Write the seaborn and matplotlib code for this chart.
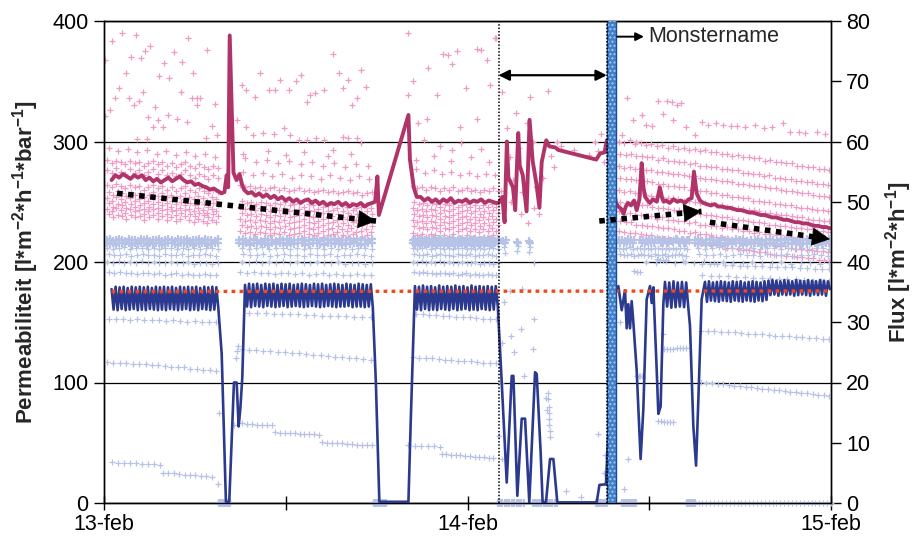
import numpy as np
import pandas as pd
import matplotlib
matplotlib.use("Agg")
import matplotlib.pyplot as plt
import seaborn as sns

# ---------------------------------------------------------------
# DATA  (time in hours after 13-feb 00:00)
# ---------------------------------------------------------------
x_ticks = [0, 12, 24, 36, 48]
x_labels = ["13-feb", "", "14-feb", "", "15-feb"]
perm_ticks = [0, 100, 200, 300, 400]
flux_ticks = [0, 10, 20, 30, 40, 50, 60, 70, 80]

# averaged permeability line: (t0, t1, values on a regular grid) or "t:v" pairs
perm_line = [
    (0.5, 7.75, "268 272 270 273 271 269 272 270 272 268 270 267 269 266 268 270 267 269 271 268 266 267 264 265 263 262 260 261 259 257"),
    "7.95:258 8.1:272 8.2:262 8.3:388 8.45:318 8.55:274 8.75:268 8.95:273 9.1:265 9.25:260 9.5:257",
    (9.75, 17.7, "258 255 257 254 256 253 255 252 254 251 253 250 252 249 251 252 249 251 248 250 247 249 248 250 247 249 246 248 247 249 246 248 249"),
    "17.9:250 18.05:271 18.15:239 20.1:322 20.2:285 20.45:262 20.65:254",
    (20.9, 25.9, "254 251 253 250 252 249 252 250 253 249 251 250 252 249 251 250 252 249 251 250 249"),
    "26.05:249 26.3:254 26.45:233 26.6:300 26.7:270 27.0:262 27.15:243 27.35:307 27.45:280 27.65:272 27.9:242 "
    "28.1:318 28.3:284 28.55:265 28.75:245 28.9:283 29.2:301 29.4:296 29.8:295 30.0:293 32.5:285 32.75:290 "
    "33.05:291 33.2:301 33.8:249 33.96:246 34.15:244 34.3:240 34.45:246 34.6:249 34.8:247 35.0:251 35.17:243 "
    "35.35:252 35.5:282 35.62:262 35.73:254 35.9:251 36.05:249 36.25:252 36.5:250 36.7:262 36.85:253 36.95:250",
    (37.1, 38.6, "251 249 252 250 251 249 252"),
    "38.8:253 38.95:275 39.13:257 39.35:251 39.57:249",
    (39.8, 47.93, "248 247 248 246 246 245 245 244 243 243 242 241 241 240 239 239 238 237 237 236 235 235 234 233 233 232 232 231 230 230 229 229 228"),
]

# averaged flux line
flux_line = [
    (0.5, 7.55, "35.5 32.1 35.9 32.0 35.8 32.2 35.9 32.0 35.7 32.1 35.9 32.2 35.8 32.0 35.9 32.1 35.8 32.0 35.9 32.2 "
                "35.7 32.1 35.9 32.0 35.8 32.1 35.9 32.0 35.8 32.2 35.9 32.1 35.7 32.0 35.9 32.1 35.8 32.2 35.9 32.0 "
                "35.8 32.1 35.9 32.0 35.7 32.2 35.9 32.1 35.8 32.0 35.9 32.1 35.8 32.3"),
    "7.77:24.8 8.05:0.2 8.27:0.2 8.58:20 8.76:20 8.89:12.7 9.0:15.6 9.13:20.8",
    (9.31, 17.75, "36.2 32.6 36.4 32.5 36.3 32.7 36.4 32.6 36.2 32.5 36.4 32.7 36.3 32.6 36.4 32.5 36.2 32.6 36.4 32.7 "
                  "36.3 32.5 36.4 32.6 36.2 32.7 36.3 32.6 36.4 32.5 36.3 32.6 36.2 32.7 36.4 32.6 36.3 32.5 36.4 32.6 "
                  "36.2 32.7 36.3 32.6 36.4 32.5 36.3 32.6 36.2 32.6 36.4 32.7 36.3 32.5 36.2 32.6 36.4 32.6 36.3 32.5 "
                  "36.2 32.6 36.3 32.4"),
    "17.95:20 18.18:0.2 20.1:0.2 20.25:13.4",
    (20.53, 26.0, "36.0 32.1 35.9 32.0 36.1 32.2 35.9 32.0 36.0 32.1 35.8 32.0 36.1 32.2 35.9 32.1 36.0 32.0 35.9 32.2 "
                  "36.1 32.0 35.9 32.1 36.0 32.2 35.8 32.0 36.1 32.1 35.9 32.0 36.0 32.2 35.9 32.1 36.0 32.0 35.9 32.1 "
                  "36.0 32.6"),
    "26.26:20 26.59:3.4 26.92:21.1 27.03:21.1 27.29:1.2 27.58:14 27.8:14 28.08:0.1 28.46:21.7 28.57:21.4 "
    "28.83:8.4 28.96:0.1 29.18:0.1 29.45:7.3 29.67:7.3 29.93:0.1 32.53:0.1 32.71:3 33.14:3.1 33.41:18 "
    "33.74:35 33.96:36 34.18:32 34.4:35.3 34.51:29 34.62:33 34.73:29 34.84:33.5 34.95:30 35.17:22 35.43:7.3 "
    "35.61:15.6 35.83:33.8 36.05:36 36.16:33.2 36.27:35.8 36.49:22.2 36.6:14.8 36.75:16 36.93:33",
    (37.04, 38.58, "36.7 32.6 36.6 32.4 36.8 32.5 36.6 32.6 36.7 32.5 36.6 32.4"),
    "38.69:29.4 38.91:12.8 39.09:6.2 39.24:17 39.46:33.8",
    (39.68, 47.93, "36.7 33.4 36.8 33.6 36.6 33.5 36.7 33.4 36.8 33.6 36.7 33.5 36.6 33.4 36.8 33.6 36.7 33.5 36.8 33.4 "
                   "36.6 33.6 36.7 33.5 36.8 33.4 36.7 33.6 36.6 33.5 36.8 33.7 36.9 34.5 37.0 34.6 36.9 34.4 36.8 34.6 "
                   "37.0 34.5 36.9 34.6 36.8 34.4 37.0 34.5 36.9 34.6 36.8 34.5 37.0 34.4 36.9 34.6 36.8 34.5 37.0 34.6 "
                   "36.9 34.4 36.8 35.5"),
]

# flux set point (red dotted line)
setpoint_t = [0.5, 48.0]
setpoint_flux = [35.1, 35.2]

# raw permeability points
perm_points = [
    (0.2, 7.5, "276 274 278 275 273 277 274 276 272 275 277 273 276 272 274 271 273 276 272 270 273 271 269 272 270"),
    (0.2, 7.5, "264 262 265 263 261 264 262 263 260 262 264 261 263 260 262 259 261 263 260 258 261 259 257 260 258"),
    (0.3, 7.4, "258 256 259 257 255 258 256 257 254 256 258 255 257 254 256 253 255 257 254 252 255 253 251 254 252"),
    (0.2, 7.5, "253 251 254 252 250 253 251 252 249 251 253 250 252 249 251 248 250 252 249 247 250 248 246 249 247"),
    (0.3, 7.4, "249 246 248 247 245 248 246 247 244 246 248 245 247 244 246 243 245 247 244 242 245 243 241 244 242"),
    (0.2, 7.5, "244 242 245 243 241 244 242 243 240 242 244 241 243 240 242 239 241 243 240 238 241 239 237 240 238"),
    (0.3, 7.4, "240 237 239 238 236 239 237 238 235 237 239 236 238 235 237 234 236 238 235 233 236 234 232 235 233"),
    (0.2, 7.5, "285 282 284 283 281 284 282 283 280 282 284 281 283 280 282 279 281 283 280 278 281 279 277 280 278"),
    (0.3, 7.3, "295 292 294 291 293 290 292 289 291 288 290 287"),
    "0.07:368 0.5:383 1.17:390 2.1:388 1.76:370 2.7:375 3.04:379 2.42:369 1.45:357 3.96:365 4.62:374 5.57:386 "
    "6.82:376 5.17:366 5.9:357 3.65:354 4.31:353 1.01:344 2.6:341 5.08:341 0.4:326 0.73:336 1.67:336 2.33:334 "
    "3.37:329 1.98:330 5.79:336 6.12:336 6.34:336 7.33:331 6.16:330 2.93:320 3.55:318 3.26:312 3.87:312 4.2:322 "
    "4.84:319 5.46:316 7.11:313 6.73:303 7.44:305 0.07:321 2.82:302 2.16:302",
    (9.0, 17.7, "264 262 263 261 262 260 261 262 260 261 259 260 261 259 260 258 259 260 258 259 257 258 259 257 258 256 257 258"),
    (9.1, 17.6, "251 249 250 248 250 249 247 249 248 250 247 248 249 246 248 247 249 246 247 248 245 247 246 248 245 246 247 245"),
    (9.0, 17.7, "246 244 245 243 245 244 242 244 243 245 242 243 244 241 243 242 244 241 242 243 240 242 241 243 240 241 242 240"),
    (9.1, 17.6, "241 239 240 238 240 239 237 239 238 240 237 238 239 236 238 237 239 236 237 238 235 237 236 238 235 236 237 235"),
    (9.0, 17.7, "236 234 235 233 235 234 232 234 233 235 232 233 234 231 233 232 234 231 232 233 230 232 231 233 230 231 232 230"),
    (9.1, 17.6, "231 229 230 228 230 229 227 229 228 230 227 228 229 226 228 227 229 226 227 228 225 227 226 228 225 226 227 225"),
    (9.0, 17.7, "226 224 225 223 225 224 222 224 223 225 222 223 224 221 223 222 224 221 222 223 220 222 221 223 220 221 222 220"),
    (9.2, 17.5, "275 272 274 271 273 270 272 271 269 272 270 268 271 269"),
    (9.3, 17.4, "286 283 285 282 284 281 283 280 282 279 281 280"),
    "9.1:347 9.4:343 10.0:337 10.3:357 10.9:343 11.3:343 11.6:351 12.2:343 12.7:350 13.4:333 13.6:339 13.9:340 "
    "14.5:343 15.1:373 15.5:357 15.8:344 16.1:351 16.4:330 16.7:336 17.0:359 17.3:345 13.0:355 9.4:312 8.8:318 "
    "9.85:305 10.5:307 11.2:306 11.9:311 12.3:305 12.9:301 13.4:301 14.0:303 14.5:301 15.1:293 15.8:304 16.1:303 "
    "16.7:303 17.0:299 9.2:290 10.8:292 12.0:289 13.2:291 14.8:288 16.3:290",
    (20.4, 26.0, "263 261 262 260 262 261 259 261 260 262 259 260 261 259 260 258 260 259 261 259"),
    (20.5, 25.9, "250 248 249 247 249 248 246 248 247 249 246 247 248 246 247 245 247 246 248 246"),
    (20.4, 26.0, "245 243 244 242 244 243 241 243 242 244 241 242 243 241 242 240 242 241 243 241"),
    (20.5, 25.9, "240 238 239 237 239 238 236 238 237 239 236 237 238 236 237 235 237 236 238 236"),
    (20.4, 26.0, "235 233 234 232 234 233 231 233 232 234 231 232 233 231 232 230 232 231 233 231"),
    (20.5, 25.9, "230 228 229 227 229 228 226 228 227 229 226 227 228 226 227 225 227 226 228 226"),
    (20.4, 26.0, "224 222 223 221 223 222 220 222 221 223 220 221 222 220 221 219 221 220 222 220"),
    (20.6, 25.8, "277 274 276 273 275 272 274 271 273 272"),
    "20.1:390 22.4:373 22.7:372 23.3:375 24.6:377 24.9:376 25.3:368 21.4:361 23.0:364 20.4:350 23.9:344 "
    "25.5:347 22.0:339 20.1:339 21.3:319 23.5:312 24.6:319 20.75:315 25.9:386 22.2:296 21.1:301 23.6:299 "
    "24.9:294 23.0:293 20.6:285 21.8:288 22.9:284 24.2:287 25.4:283",
    "26.3:341 26.6:311 26.8:287 27.0:268 27.2:324 27.4:295 27.6:258 27.9:315 28.1:337 28.3:300 28.5:262 "
    "28.7:240 29.0:270 29.3:342 29.5:288 29.7:279 26.9:250 27.5:240 28.0:232 28.4:245 32.4:300 32.6:292 "
    "32.8:306 33.0:283 26.2:259 26.4:244 29.9:300 30.2:296 31.0:293 32.0:289 25.8:386",
    (34.0, 47.9, "300 299 301 298 299 297 298 296 297 295 296 294 295 293 294 292 293 291 291 290 290 288 289 287 287 286 286 284 285 283 283 282 282 280 280 279 279 277 277 276"),
    (34.1, 47.8, "290 289 290 288 288 287 287 285 286 284 284 283 283 281 282 280 280 279 279 277 277 276 276 274 274 273 273 271 272 270 270 269 269 267 267 266 266 265 265 264"),
    (34.0, 47.9, "280 278 279 277 278 276 276 275 275 274 273 273 272 271 271 270 269 269 268 267 267 266 265 265 264 263 263 262 261 261 260 259 259 258 257 257 256 255 255 254"),
    (34.1, 47.8, "270 269 269 268 267 267 266 265 265 263 263 262 262 260 260 259 259 257 257 256 256 254 254 253 253 251 251 250 250 248 248 247 247 246 245 245 244 243 243 242"),
    (34.0, 47.9, "260 258 259 257 257 256 255 255 254 253 253 252 251 251 250 249 249 248 247 247 246 245 245 244 243 243 242 241 241 240 239 239 238 237 237 236 235 235 234 234"),
    (34.1, 47.8, "250 249 249 248 247 247 246 245 245 244 243 243 242 241 241 240 239 239 238 237 237 236 235 235 234 233 233 232 231 231 230 230 229 228 228 227 227 226 226 225"),
    (34.0, 47.9, "242 240 241 239 239 238 238 236 237 235 235 234 234 232 233 231 231 230 230 228 229 227 227 226 226 224 225 223 223 222 222 221 221 219 220 218 218 217 217 216"),
    (34.1, 47.8, "234 233 233 231 231 230 230 229 228 228 227 226 226 224 225 223 223 222 221 221 220 219 219 218 217 217 216 215 215 214 213 213 212 211 211 210 210 209 209 208"),
    (34.0, 47.9, "226 225 224 224 223 222 222 221 220 220 219 218 218 217 216 216 215 214 214 213 212 212 211 210 210 209 208 208 207 206 206 205 205 204 204 203 203 202 202 201"),
    "34.5:336 35.5:322 35.8:314 36.6:334 36.9:323 37.2:334 37.5:333 37.8:330 38.1:332 39.5:316 39.9:314 "
    "40.4:315 40.9:314 41.4:313 41.8:313 42.3:312 43.0:314 43.6:311 44.1:312 44.8:315 45.3:308 45.9:308 "
    "46.3:307 47.1:308 47.6:306 34.9:318 36.2:313 37.6:318 38.4:312 34.2:305 35.1:300 39.0:305",
]

# raw flux points: the dense bands (flux ~43 and the zero clusters) ...
dense_hi = "43.6 43.8 43.5 43.7 43.9 43.6 43.5 43.8 43.6 43.7 43.5 43.9 43.6 43.8 43.5 43.7 43.6 43.9 43.5 43.7 43.8 43.6 43.5 43.9 43.7 43.6 43.8 43.5 43.7 43.6 43.8 43.5 43.9 43.6 43.7 43.5 43.8"
dense_lo = "43.1 43.0 43.2 42.9 43.1 43.2 43.0 43.1 42.9 43.2 43.0 43.1 43.2 42.9 43.1 43.0 43.2 43.1 42.9 43.0 43.2 43.1 43.0 42.9 43.2 43.1 43.0 43.2 42.9 43.1 43.0 43.2 43.1 42.9 43.0 43.2 43.1"
dense_short = "43.6 43.2 43.7 43.1 43.5 43.3 43.8 43.2 43.6 43.1 43.7"
zeros_12 = "0 0 0 0 0 0 0 0 0 0 0 0"
flux_points_dense = [
    (0.2, 7.5, dense_hi), (0.2, 7.5, dense_lo), (8.9, 17.7, dense_hi), (8.9, 17.7, dense_lo),
    (20.4, 26.0, dense_hi), (20.4, 26.0, dense_lo), (39.0, 47.9, dense_hi), (39.0, 47.9, dense_lo),
    (34.0, 35.0, dense_short), (35.4, 36.4, dense_short), (36.6, 38.6, dense_short), (36.7, 38.5, dense_short),
    (7.6, 8.3, zeros_12), (17.8, 18.6, zeros_12), (26.0, 27.7, zeros_12), (28.3, 29.9, zeros_12),
    (32.5, 33.2, zeros_12), (34.2, 35.1, zeros_12), (38.5, 39.0, zeros_12),
    "26.35:43.5 26.45:43.2 26.55:43.6 27.25:43.4 27.35:43.1 28.05:43.5 28.15:43.2",
]
# ... and the scattered streaks
row_423 = "42.4 42.2 42.3 42.5 42.1 42.3 42.4 42.2 42.3 42.1 42.4 42.3 42.2 42.4 42.1 42.3 42.2 42.4 42.3 42.1"
row_412 = "41.3 41.1 41.2 41.4 41.0 41.2 41.3 41.1 41.2 41.0 41.3 41.2 41.1 41.3 41.0 41.2 41.1 41.3 41.2 41.0"
row_400 = "40.0 39.9 40.1 39.8 40.0 39.9 40.1 39.8 40.0 39.9 39.8 40.0 39.9 39.8 40.0 39.7 39.9 39.8 39.7 39.8"
row_381 = "38.3 38.2 38.3 38.1 38.2 38.0 38.1 38.2 38.0 38.1 37.9 38.0 38.1 37.9 38.0 37.8 37.9 38.0 37.8 37.9"
zeros_36 = " ".join(["0"] * 36)
flux_points = [
    (0.2, 7.5, row_423), (0.3, 7.4, row_412), (0.2, 7.5, row_400), (0.3, 7.4, row_381),
    (9.1, 17.7, row_423), (9.2, 17.6, row_412), (9.1, 17.7, row_400), (9.0, 17.6, row_381),
    (20.4, 26.0, row_423), (20.5, 25.9, row_412), (20.4, 26.0, row_400), (20.5, 25.9, row_381),
    (34.0, 38.5, row_423), (34.1, 38.4, row_412), (39.2, 47.9, row_423), (39.3, 47.8, row_412), (35.8, 47.9, row_400),
    (0.3, 7.4, "30.6 30.5 30.6 30.4 30.5 30.4 30.3 30.4 30.2 30.3 30.2 30.1 30.2 30.0 30.1 30.0"),
    (0.2, 7.4, "23.4 23.3 23.3 23.2 23.1 23.1 23.0 22.9 22.9 22.7 22.6 22.5 22.5 22.3 22.2 22.1 22.0 21.9"),
    (0.5, 3.7, "6.8 6.7 6.7 6.6 6.6 6.5 6.4 6.4 6.3"),
    (3.9, 7.1, "5.0 4.9 4.9 4.8 4.7 4.7 4.6 4.5 4.4 4.3"),
    (9.6, 17.6, "31.6 31.5 31.5 31.4 31.4 31.3 31.3 31.2 31.2 31.1 31.1 31.0 31.0 30.9 30.9 30.8"),
    (9.1, 17.6, "25.5 25.4 25.4 25.3 25.2 25.1 25.0 24.9 24.9 24.8 24.6 24.5 24.4 24.3 24.2 24.1 24.0 23.9 23.8"),
    (9.1, 11.1, "13.2 13.1 13.1 13.0 13.0 12.9 12.9"),
    (11.3, 14.2, "11.8 11.7 11.7 11.6 11.6 11.5 11.5 11.4 11.4 11.3"),
    (14.4, 17.7, "10.1 10.0 10.0 9.9 9.9 9.8 9.8 9.7 9.7 9.6 9.6"),
    (20.6, 25.9, "31.4 31.3 31.2 31.2 31.1 31.0 30.9 30.9 30.8 30.7 30.6 30.6 30.5"),
    (20.4, 25.9, "24.2 24.1 24.0 24.0 23.9 23.8 23.7 23.6 23.6 23.5 23.4 23.3 23.2 23.2"),
    (20.1, 22.2, "9.6 9.5 9.5 9.4 9.4 9.3"),
    (22.3, 25.7, "8.2 8.1 8.0 8.0 7.9 7.8 7.8 7.7 7.6 7.6 7.5 7.4"),
    (39.5, 47.9, "39.7 39.6 39.6 39.5 39.5 39.4 39.4 39.3 39.3 39.2 39.2 39.1 39.1 39.0 39.0 38.9 38.9 38.8"),
    (39.5, 47.9, "37.8 37.7 37.7 37.6 37.5 37.5 37.4 37.3 37.3 37.2 37.1 37.1 37.0 36.9 36.9 36.8"),
    (39.4, 47.9, "28.6 28.5 28.5 28.4 28.3 28.3 28.2 28.1 28.0 28.0 27.9 27.8 27.7 27.7 27.6 27.5 27.4 27.4 27.3 27.2"),
    (39.4, 47.9, "20.1 20.0 19.9 19.8 19.7 19.6 19.5 19.4 19.3 19.2 19.1 19.0 18.9 18.8 18.7 18.6 18.5 18.4 18.3 18.2 18.1 18.0 17.9 17.8"),
    (39.0, 48.0, zeros_36),
    "7.55:3.1 8.7:24 8.75:25.2 8.85:26 8.6:13 7.6:15 "
    "26.2:20 26.3:26.6 26.9:27.7 27.1:25 27.6:35.5 27.7:21.1 28.4:39.9 28.4:30.5 28.3:25.5 27.5:28.8 "
    "26.8:35.2 26.4:33.3 26.3:7.3 26.1:11.2 29.3:18.3 29.3:17.2 29.35:16 29.35:15 29.4:14 29.4:13 29.45:12 "
    "29.45:11 29.2:17.5 29.25:15.5 32.6:11.4 30.5:2 31.5:1 26.4:42.5 26.5:41.5 27.35:42.6 27.25:41.8 "
    "28.15:42.5 28.05:41.7 33.0:5 33.1:8",
    "35.2:21 35.3:21 35.4:21 35.5:21 36.6:13.6 36.8:13.6 37.0:13.5 37.2:13.5 37.4:13.4 37.6:13.4 37.0:25.5 "
    "37.2:25.6 37.4:25.5 37.6:25.6 37.8:25.7 38.0:25.7 38.2:25.8 38.4:25.8 34.6:7.3 34.3:2.3 36.9:28 34.1:30 "
    "34.3:33 35.0:38.5 35.2:38.4 35.4:38.4 36.5:40.5 36.7:40.4 36.9:40.4 37.1:40.3 38.2:40.1",
]


def expand(pieces):
    t, v = [], []
    for p in pieces:
        if isinstance(p, str):
            for tok in p.split():
                a, b = tok.split(":")
                t.append(float(a))
                v.append(float(b))
        else:
            t0, t1, s = p
            vals = [float(x) for x in s.split()]
            t.extend(np.linspace(t0, t1, len(vals)))
            v.extend(vals)
    return pd.DataFrame({"t": t, "v": v})


perm_line_df = expand(perm_line)
flux_line_df = expand(flux_line)
perm_pts_df = expand(perm_points)
flux_dense_df = expand(flux_points_dense)
flux_pts_df = expand(flux_points)
setpoint_df = pd.DataFrame({"t": setpoint_t, "v": setpoint_flux})

# ---------------------------------------------------------------
# STYLE
# ---------------------------------------------------------------
sns.set_theme(style="white")
plt.rcParams["font.family"] = ["Liberation Sans", "DejaVu Sans"]
plt.rcParams["mathtext.fontset"] = "custom"
plt.rcParams["mathtext.bf"] = "Liberation Sans:bold"
plt.rcParams["mathtext.rm"] = "Liberation Sans:bold"
plt.rcParams["mathtext.default"] = "bf"

PINK = "#ee9cc6"
MAGENTA = "#b03469"
LIGHTBLUE = "#b6c2e6"
NAVY = "#2b3a8e"
RED = "#f2461e"

fig = plt.figure(figsize=(9.14, 5.47), dpi=100)
ax1 = fig.add_axes([104 / 914, 44 / 547, 727 / 914, 482 / 547])
ax2 = ax1.twinx()

# permeability (left axis)
sns.scatterplot(data=perm_pts_df, x="t", y="v", ax=ax1, marker="+", s=16,
                linewidth=0.9, color=PINK, legend=False, zorder=2)
sns.lineplot(data=perm_line_df, x="t", y="v", ax=ax1, color=MAGENTA, lw=2.8,
             sort=False, estimator=None, zorder=3)

# flux (right axis)
sns.scatterplot(data=flux_pts_df, x="t", y="v", ax=ax2, marker="+", s=16,
                linewidth=0.9, color=LIGHTBLUE, legend=False, zorder=2, clip_on=False)
sns.scatterplot(data=flux_dense_df, x="t", y="v", ax=ax2, marker="+", s=30,
                linewidth=1.6, color=LIGHTBLUE, legend=False, zorder=2, clip_on=False)
sns.lineplot(data=flux_line_df, x="t", y="v", ax=ax2, color=NAVY, lw=1.9,
             sort=False, estimator=None, zorder=3)
sns.lineplot(data=setpoint_df, x="t", y="v", ax=ax2, color=RED, lw=2.4,
             zorder=4).lines[-1].set_dashes((1.1, 1.3))

ax1.set_xlim(0, 48)
ax1.set_ylim(0, 400)
ax2.set_ylim(0, 80)

# annotations
T = ax1.transData
ax2.axvline(26.05, color="black", lw=1.1, ls=(0, (1, 1.2)), zorder=5)
ax2.axvspan(33.22, 33.8, facecolor="#3f7fca", edgecolor="#a6cdf2", hatch="....", lw=0, zorder=6)
ax2.axvline(33.22, color="#1d4a96", lw=1.0, zorder=7)
ax2.axvline(33.8, color="#1d4a96", lw=1.0, zorder=7)
ax2.axvline(33.18, color="black", lw=1.1, ls=(0, (1, 1.2)), zorder=7)

ax2.annotate("", xy=(33.2, 355), xytext=(26.05, 355), xycoords=T, textcoords=T,
             arrowprops=dict(arrowstyle="<|-|>", color="black", lw=1.6, mutation_scale=16,
                             shrinkA=0, shrinkB=0), zorder=8)
ax2.annotate("", xy=(35.65, 387), xytext=(33.89, 387), xycoords=T, textcoords=T,
             arrowprops=dict(arrowstyle="-|>", color="black", lw=1.4, mutation_scale=12,
                             shrinkA=0, shrinkB=0), zorder=8)
ax2.text(35.95, 387, "Monstername", transform=T, fontsize=15.5, va="center", ha="left", zorder=8)

trend_arrows = [((0.86, 257), (17.96, 234)), ((32.7, 234), (39.45, 242)), ((40.0, 233), (47.93, 219))]
for (x0, y0), (x1, y1) in trend_arrows:
    ax2.plot([x0, x1], [y0, y1], transform=T, color="black", lw=4.0,
             ls=(0, (1, 1)), dash_capstyle="butt", zorder=9)
    xb, yb = x1 - 0.03 * (x1 - x0), y1 - 0.03 * (y1 - y0)
    ax2.annotate("", xy=(x1, y1), xytext=(xb, yb), xycoords=T, textcoords=T,
                 arrowprops=dict(arrowstyle="-|>,head_length=0.55,head_width=0.28", color="black",
                                 lw=0.5, mutation_scale=22, shrinkA=0, shrinkB=0), zorder=10)

# axes styling
ax1.set_xticks(x_ticks)
ax1.set_xticklabels(x_labels)
ax1.set_yticks(perm_ticks)
ax2.set_yticks(flux_ticks)
ax1.yaxis.grid(True, color="black", lw=0.9)
ax1.xaxis.grid(False)
ax1.set_axisbelow(True)
for ax in (ax1, ax2):
    for sp in ax.spines.values():
        sp.set_visible(True)
        sp.set_color("black")
        sp.set_linewidth(1.0)
ax1.tick_params(axis="x", bottom=True, direction="inout", length=10, width=1, labelsize=15.5, pad=3, colors="black")
ax1.tick_params(axis="y", left=True, direction="out", length=7, width=1, labelsize=15.5, pad=4, colors="black")
ax2.tick_params(axis="y", right=True, direction="out", length=7, width=1, labelsize=15.5, pad=4, colors="black")

ax1.set_xlabel("")
ax1.set_ylabel(r"Permeabiliteit [l*m$^{-2}$*h$^{-1}$*bar$^{-1}$]", fontsize=16, fontweight="bold", labelpad=8)
ax2.set_ylabel(r"Flux [l*m$^{-2}$*h$^{-1}$]", fontsize=16, fontweight="bold", labelpad=9)

ax1.set_xlim(0, 48)
ax1.set_ylim(0, 400)
ax2.set_ylim(0, 80)

fig.savefig("out.png", dpi=100)
